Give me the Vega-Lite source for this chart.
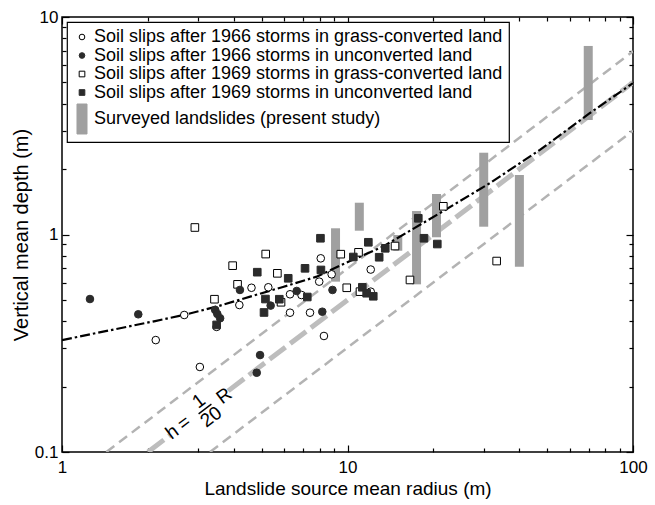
{
  "$schema": "https://vega.github.io/schema/vega-lite/v6.json",
  "width": 571,
  "height": 435,
  "autosize": {"type": "none"},
  "padding": {"left": 62, "top": 17, "right": 22, "bottom": 53},
  "background": "white",
  "config": {
    "font": "Liberation Sans",
    "view": {"stroke": "black", "strokeWidth": 1.5},
    "axis": {"grid": false, "domain": false, "tickColor": "black", "tickWidth": 1.2, "labelColor": "black", "titleColor": "black", "labelFont": "Liberation Sans", "titleFont": "Liberation Sans", "labelFontSize": 17, "titleFontSize": 20, "titleFontWeight": "normal", "labelFlush": false, "labelOverlap": false},
    "legend": {"orient": "top-left", "offset": 5, "padding": 6, "strokeColor": "black", "strokeWidth": 1.2, "fillColor": "white", "labelFont": "Liberation Sans", "labelFontSize": 18, "labelColor": "black", "labelLimit": 600, "symbolSize": 32, "symbolStrokeWidth": 1, "rowPadding": 0.5, "labelOffset": 3, "zindex": 1}
  },
  "datasets": {
    "thin": [
      {"line": "upper", "R": 1.43, "h": 0.1},
      {"line": "upper", "R": 100, "h": 6.95},
      {"line": "lower", "R": 3.3, "h": 0.1},
      {"line": "lower", "R": 100, "h": 3.0}
    ],
    "fit": [
      {"seg": 1, "R": 2, "h": 0.1},
      {"seg": 1, "R": 2.39, "h": 0.1195},
      {"seg": 2, "R": 3.82, "h": 0.191},
      {"seg": 2, "R": 100, "h": 5}
    ],
    "bars": [
      {"R": 9.08, "lo": 0.607, "hi": 1.068},
      {"R": 11.0, "lo": 1.041, "hi": 1.40},
      {"R": 15.0, "lo": 0.842, "hi": 0.995},
      {"R": 17.45, "lo": 0.590, "hi": 1.282},
      {"R": 20.5, "lo": 0.971, "hi": 1.535},
      {"R": 30.0, "lo": 1.086, "hi": 2.377},
      {"R": 40.0, "lo": 0.711, "hi": 1.877},
      {"R": 69.7, "lo": 3.36, "hi": 7.36}
    ],
    "trend": [
      {"R": 1, "h": 0.327},
      {"R": 2.12, "h": 0.40},
      {"R": 2.66, "h": 0.426},
      {"R": 3.48, "h": 0.466},
      {"R": 4.56, "h": 0.518},
      {"R": 5.94, "h": 0.574},
      {"R": 7.8, "h": 0.64},
      {"R": 10.2, "h": 0.755},
      {"R": 13.3, "h": 0.879},
      {"R": 21.1, "h": 1.256},
      {"R": 31.6, "h": 1.725},
      {"R": 47.2, "h": 2.45},
      {"R": 70.7, "h": 3.62},
      {"R": 100, "h": 4.97}
    ],
    "points": [
      {"series": "A", "R": 2.13, "h": 0.327},
      {"series": "A", "R": 2.68, "h": 0.4265},
      {"series": "A", "R": 3.04, "h": 0.246},
      {"series": "A", "R": 3.48, "h": 0.376},
      {"series": "A", "R": 4.18, "h": 0.474},
      {"series": "A", "R": 4.61, "h": 0.569},
      {"series": "A", "R": 5.28, "h": 0.572},
      {"series": "A", "R": 6.29, "h": 0.531},
      {"series": "A", "R": 6.29, "h": 0.437},
      {"series": "A", "R": 6.9, "h": 0.527},
      {"series": "A", "R": 7.39, "h": 0.437},
      {"series": "A", "R": 7.96, "h": 0.607},
      {"series": "A", "R": 8.06, "h": 0.777},
      {"series": "A", "R": 8.27, "h": 0.3415},
      {"series": "A", "R": 8.8, "h": 0.656},
      {"series": "A", "R": 12.06, "h": 0.69},
      {"series": "A", "R": 12.06, "h": 0.546},
      {"series": "C", "R": 2.92, "h": 1.077},
      {"series": "C", "R": 3.42, "h": 0.504},
      {"series": "C", "R": 3.96, "h": 0.719},
      {"series": "C", "R": 4.12, "h": 0.59},
      {"series": "C", "R": 5.17, "h": 0.813},
      {"series": "C", "R": 5.68, "h": 0.663},
      {"series": "C", "R": 5.85, "h": 0.488},
      {"series": "C", "R": 9.47, "h": 0.812},
      {"series": "C", "R": 9.94, "h": 0.569},
      {"series": "C", "R": 10.93, "h": 0.828},
      {"series": "C", "R": 11.06, "h": 0.546},
      {"series": "C", "R": 14.67, "h": 0.885},
      {"series": "C", "R": 16.55, "h": 0.618},
      {"series": "C", "R": 21.66, "h": 1.348},
      {"series": "C", "R": 33.3, "h": 0.755},
      {"series": "B", "R": 1.253, "h": 0.505},
      {"series": "B", "R": 1.85, "h": 0.4296},
      {"series": "B", "R": 3.44, "h": 0.45},
      {"series": "B", "R": 3.5, "h": 0.431},
      {"series": "B", "R": 3.58, "h": 0.412},
      {"series": "B", "R": 4.2, "h": 0.556},
      {"series": "B", "R": 4.94, "h": 0.279},
      {"series": "B", "R": 4.81, "h": 0.2315},
      {"series": "B", "R": 5.38, "h": 0.471},
      {"series": "B", "R": 6.64, "h": 0.55},
      {"series": "B", "R": 8.16, "h": 0.4416},
      {"series": "B", "R": 8.86, "h": 0.556},
      {"series": "D", "R": 3.48, "h": 0.384},
      {"series": "D", "R": 4.83, "h": 0.671},
      {"series": "D", "R": 5.1, "h": 0.438},
      {"series": "D", "R": 5.16, "h": 0.505},
      {"series": "D", "R": 5.77, "h": 0.504},
      {"series": "D", "R": 6.2, "h": 0.629},
      {"series": "D", "R": 7.1, "h": 0.699},
      {"series": "D", "R": 7.23, "h": 0.516},
      {"series": "D", "R": 8.04, "h": 0.961},
      {"series": "D", "R": 8.07, "h": 0.687},
      {"series": "D", "R": 10.48, "h": 0.788},
      {"series": "D", "R": 11.27, "h": 0.572},
      {"series": "D", "R": 11.67, "h": 0.537},
      {"series": "D", "R": 12.31, "h": 0.52},
      {"series": "D", "R": 11.83, "h": 0.921},
      {"series": "D", "R": 12.91, "h": 0.786},
      {"series": "D", "R": 13.56, "h": 0.864},
      {"series": "D", "R": 17.7, "h": 1.187},
      {"series": "D", "R": 18.53, "h": 0.961},
      {"series": "D", "R": 20.63, "h": 0.904}
    ],
    "annot": [
      {"label": "h", "R": 2.43, "h": 0.1236},
      {"label": "=", "R": 2.675, "h": 0.136},
      {"label": "1", "R": 3.017, "h": 0.1714},
      {"label": "20", "R": 3.33, "h": 0.145},
      {"label": "R", "R": 3.7, "h": 0.181}
    ],
    "fracbar": [
      {"R": 3.01, "h": 0.1498, "R2": 3.337, "h2": 0.166}
    ]
  },
  "layer": [
    {
      "data": {"name": "thin"},
      "mark": {"type": "line", "stroke": "#b3b3b3", "strokeWidth": 2.5, "strokeDash": [10, 6], "clip": true},
      "encoding": {
        "x": {"field": "R", "type": "quantitative", "scale": {"type": "log", "domain": [1, 100]},
              "axis": {"orient": "bottom", "values": [1, 10, 100], "format": "~g", "ticks": false, "labelPadding": 7, "title": "Landslide source mean radius (m)", "titleFontSize": 19, "titlePadding": 4}},
        "y": {"field": "h", "type": "quantitative", "scale": {"type": "log", "domain": [0.1, 10]},
              "axis": {"orient": "left", "values": [0.1, 1, 10], "format": "~g", "ticks": false, "labelPadding": 4, "title": "Vertical mean depth (m)", "titlePadding": 3}},
        "detail": {"field": "line", "type": "nominal"}
      }
    },
    {
      "data": {"name": "fit"},
      "mark": {"type": "line", "stroke": "#bdbdbd", "strokeWidth": 5, "strokeDash": [20, 6], "clip": true},
      "encoding": {
        "x": {"field": "R", "type": "quantitative", "scale": {"type": "log", "domain": [1, 100]},
              "axis": {"orient": "bottom", "values": [1, 10, 100], "labels": false, "tickSize": -7, "title": null}},
        "y": {"field": "h", "type": "quantitative", "scale": {"type": "log", "domain": [0.1, 10]},
              "axis": {"orient": "left", "values": [0.1, 1, 10], "labels": false, "tickSize": -7, "title": null}},
        "detail": {"field": "seg", "type": "nominal"}
      }
    },
    {
      "data": {"name": "bars"},
      "mark": {"type": "rule", "stroke": "#a0a0a0", "strokeWidth": 9, "strokeCap": "butt", "clip": true},
      "encoding": {
        "x": {"field": "R", "type": "quantitative", "scale": {"type": "log", "domain": [1, 100]},
              "axis": {"orient": "bottom", "values": [2, 3, 4, 5, 6, 7, 8, 9, 20, 30, 40, 50, 60, 70, 80, 90], "labels": false, "tickSize": -4, "title": null}},
        "y": {"field": "lo", "type": "quantitative", "scale": {"type": "log", "domain": [0.1, 10]},
              "axis": {"orient": "left", "values": [0.2, 0.3, 0.4, 0.5, 0.6, 0.7, 0.8, 0.9, 2, 3, 4, 5, 6, 7, 8, 9], "labels": false, "tickSize": -4, "title": null}},
        "y2": {"field": "hi"}
      }
    },
    {
      "data": {"name": "trend"},
      "mark": {"type": "line", "stroke": "black", "strokeWidth": 2.2, "strokeDash": [10, 3, 2.5, 3], "clip": true},
      "encoding": {
        "x": {"field": "R", "type": "quantitative", "scale": {"type": "log", "domain": [1, 100]},
              "axis": {"orient": "top", "values": [1, 10, 100], "labels": false, "tickSize": -7, "title": null}},
        "y": {"field": "h", "type": "quantitative", "scale": {"type": "log", "domain": [0.1, 10]},
              "axis": {"orient": "right", "values": [0.1, 1, 10], "labels": false, "tickSize": -7, "title": null}}
      }
    },
    {
      "data": {"name": "points"},
      "mark": {"type": "point", "filled": true, "size": 58, "strokeWidth": 1, "opacity": 1, "clip": true},
      "encoding": {
        "x": {"field": "R", "type": "quantitative", "scale": {"type": "log", "domain": [1, 100]},
              "axis": {"orient": "top", "values": [2, 3, 4, 5, 6, 7, 8, 9, 20, 30, 40, 50, 60, 70, 80, 90], "labels": false, "tickSize": -4, "title": null}},
        "y": {"field": "h", "type": "quantitative", "scale": {"type": "log", "domain": [0.1, 10]},
              "axis": {"orient": "right", "values": [0.2, 0.3, 0.4, 0.5, 0.6, 0.7, 0.8, 0.9, 2, 3, 4, 5, 6, 7, 8, 9], "labels": false, "tickSize": -4, "title": null}},
        "shape": {"field": "series", "type": "nominal",
                  "scale": {"domain": ["A", "B", "C", "D", "E"], "range": ["circle", "circle", "square", "square", "M-1.77,-5.3H1.77V5.3H-1.77Z"]},
                  "legend": {"title": null, "labelExpr": "datum.label == 'A' ? 'Soil slips after 1966 storms in grass-converted land' : datum.label == 'B' ? 'Soil slips after 1966 storms in unconverted land' : datum.label == 'C' ? 'Soil slips after 1969 storms in grass-converted land' : datum.label == 'D' ? 'Soil slips after 1969 storms in unconverted land' : 'Surveyed landslides (present study)'"}},
        "fill": {"field": "series", "type": "nominal",
                 "scale": {"domain": ["A", "B", "C", "D", "E"], "range": ["white", "#2b2b2b", "white", "#2b2b2b", "#a0a0a0"]},
                 "legend": {"title": null, "labelExpr": "datum.label == 'A' ? 'Soil slips after 1966 storms in grass-converted land' : datum.label == 'B' ? 'Soil slips after 1966 storms in unconverted land' : datum.label == 'C' ? 'Soil slips after 1969 storms in grass-converted land' : datum.label == 'D' ? 'Soil slips after 1969 storms in unconverted land' : 'Surveyed landslides (present study)'"}},
        "stroke": {"field": "series", "type": "nominal",
                   "scale": {"domain": ["A", "B", "C", "D", "E"], "range": ["black", "#2b2b2b", "black", "#2b2b2b", "#a0a0a0"]},
                   "legend": {"title": null, "labelExpr": "datum.label == 'A' ? 'Soil slips after 1966 storms in grass-converted land' : datum.label == 'B' ? 'Soil slips after 1966 storms in unconverted land' : datum.label == 'C' ? 'Soil slips after 1969 storms in grass-converted land' : datum.label == 'D' ? 'Soil slips after 1969 storms in unconverted land' : 'Surveyed landslides (present study)'"}}
      }
    },
    {
      "data": {"name": "annot"},
      "mark": {"type": "text", "angle": -37, "fontSize": 19, "font": "Liberation Sans", "align": "center", "baseline": "middle", "fill": "black"},
      "encoding": {
        "x": {"field": "R", "type": "quantitative", "scale": {"type": "log", "domain": [1, 100]}, "axis": null},
        "y": {"field": "h", "type": "quantitative", "scale": {"type": "log", "domain": [0.1, 10]}, "axis": null},
        "text": {"field": "label", "type": "nominal"}
      }
    },
    {
      "data": {"name": "fracbar"},
      "mark": {"type": "rule", "stroke": "black", "strokeWidth": 1.4},
      "encoding": {
        "x": {"field": "R", "type": "quantitative", "scale": {"type": "log", "domain": [1, 100]}, "axis": null},
        "y": {"field": "h", "type": "quantitative", "scale": {"type": "log", "domain": [0.1, 10]}, "axis": null},
        "x2": {"field": "R2"},
        "y2": {"field": "h2"}
      }
    }
  ],
  "resolve": {"axis": {"x": "independent", "y": "independent"}}
}
